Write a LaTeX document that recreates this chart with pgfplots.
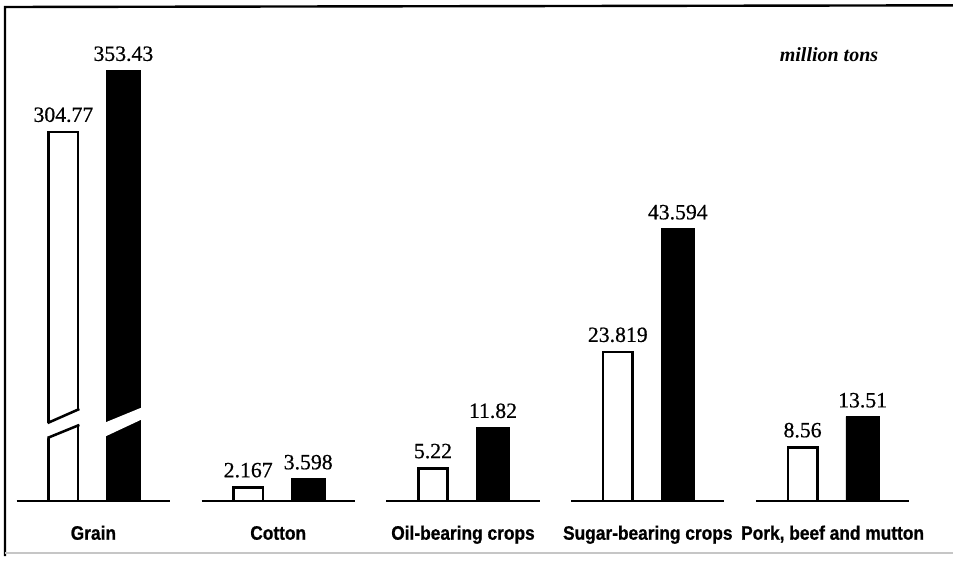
\documentclass[border=0pt]{standalone}
\usepackage{fontspec}
\setmainfont{Liberation Serif}
\newfontfamily\valfont[FakeBold=0.6]{Liberation Serif}
\newfontfamily\labfont[FakeStretch=0.89, FakeBold=0.8]{Liberation Sans}
\usepackage{pgfplots}
\pgfplotsset{compat=1.18}
\usepackage{pgfplotstable}

% white and black bars, million tons
\pgfplotstableread{
x y lab
1 2.167 2.167
2 5.22 5.22
3 23.819 23.819
4 8.56 8.56
}\first
\pgfplotstableread{
x y lab
1 3.598 3.598
2 11.82 11.82
3 43.594 43.594
4 13.51 13.51
}\second
\pgfplotstableread{
x y lab
0 304.77 304.77
}\grainA
\pgfplotstableread{
x y lab
0 353.43 353.43
}\grainB

\pgfplotsset{
  base/.style={
    scale only axis, width=693pt, height=345.75pt,
    at={(0.75pt,45.75pt)}, anchor=south west,
    xmin=-0.5, xmax=4.5,
    axis line style={draw=none}, tick style={draw=none},
    ytick=\empty,
    ybar, nodes near coords, point meta=explicit symbolic,
    every node near coord/.append style={font=\valfont\fontsize{16.3}{16.3}\selectfont, anchor=south, inner sep=0pt, yshift=6.5pt},
  },
  whitebar/.style={fill=white, draw=black, line width=1.9pt, bar width=22.1pt, bar shift=-22.5pt},
  blackbar/.style={fill=black, draw=black, line width=0.4pt, bar width=25pt, bar shift=22.5pt},
}

\begin{document}
\begin{tikzpicture}
\useasboundingbox (0,0) rectangle (714.75pt,421.5pt);

% Grain, on its own broken scale
\begin{axis}[base, ymin=15.2, ymax=377.05, xtick=\empty]
\addplot[whitebar] table[x=x, y=y, meta=lab] {\grainA};
\addplot[blackbar] table[x=x, y=y, meta=lab] {\grainB};
% break marks
\fill[white] (axis cs:-0.27,63.3) -- (axis cs:-0.055,76.4) -- (axis cs:-0.055,88.9) -- (axis cs:-0.27,75.1) -- cycle;
\draw[line width=1.9pt] (axis cs:-0.248,64.7) -- (axis cs:-0.076,74.9);
\draw[line width=1.9pt] (axis cs:-0.248,76.4) -- (axis cs:-0.076,87.4);
\fill[white] (axis cs:0.055,65.2) -- (axis cs:0.27,79.8) -- (axis cs:0.27,89.1) -- (axis cs:0.055,76.3) -- cycle;
\end{axis}

% other categories
\begin{axis}[base, ymin=0, ymax=73.76, clip=false,
  xtick={0,1,2,3,4},
  xticklabels={Grain, Cotton, Oil-bearing crops, Sugar-bearing crops, {Pork, beef and mutton}},
  xticklabel style={font=\labfont\bfseries\fontsize{14.6}{14.6}\selectfont, anchor=base, inner sep=0pt, yshift=-24.75pt},
]
\addplot[whitebar] table[x=x, y=y, meta=lab] {\first};
\addplot[blackbar] table[x=x, y=y, meta=lab] {\second};
\pgfplotsinvokeforeach{0,1,2,3,4}{
  \draw[line width=2.2pt] (axis cs:#1-0.415,0) -- (axis cs:#1+0.415,0);
}
\end{axis}

\node[font=\bfseries\itshape\fontsize{15}{15}\selectfont] at (621.75pt,380.25pt) {million tons};

% frame
\draw[line width=1.8pt] (3.75pt,4.5pt) -- (3.75pt,416.25pt) -- (714.75pt,417.5pt);
\draw[gray!45, line width=1pt] (3.75pt,6.75pt) -- (714.75pt,6.75pt);
\end{tikzpicture}
\end{document}
